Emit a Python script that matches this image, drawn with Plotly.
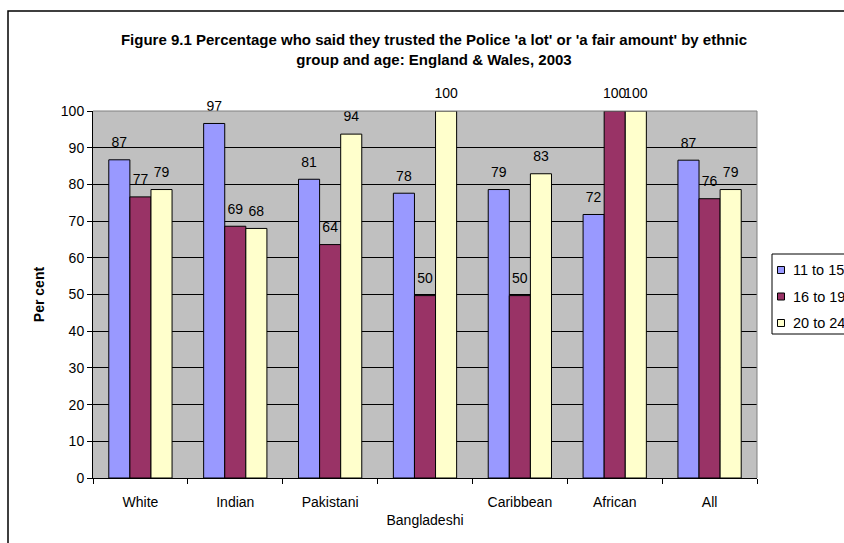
import plotly.graph_objects as go

categories = ["White", "Indian", "Pakistani", "Bangladeshi", "Caribbean", "African", "All"]
tick_labels = ["White", "Indian", "Pakistani", "<br>Bangladeshi", "Caribbean", "African", "All"]
series_names = ["11 to 15", "16 to 19", "20 to 24"]
age_11_15 = [86.7, 96.6, 81.4, 77.6, 78.6, 71.8, 86.6]
age_16_19 = [76.6, 68.6, 63.6, 49.7, 49.7, 100.0, 76.1]
age_20_24 = [78.6, 68.0, 93.7, 100.0, 82.9, 100.0, 78.6]
colors = ["#9999FF", "#993366", "#FFFFCC"]

FONT = "Arial, 'Liberation Sans', sans-serif"
GAP = 0.333

W, H = 844, 543
L, R, T, B = 93, 757, 111, 478


def px_x(px):
    return (px - L) / (R - L)


def px_y(py):
    return (B - py) / (B - T)


fig = go.Figure()
all_series = [age_11_15, age_16_19, age_20_24]
for i, (name, vals) in enumerate(zip(series_names, all_series)):
    fig.add_trace(go.Bar(
        x=categories, y=vals, name=name,
        marker=dict(color=colors[i], line=dict(color="black", width=1)),
        showlegend=False,
    ))
for i, vals in enumerate(all_series):
    fig.add_trace(go.Scatter(
        x=categories, y=vals, mode="markers+text",
        marker=dict(size=13, opacity=0, color="black"),
        text=[f"{v:.0f}" for v in vals], textposition="top center",
        textfont=dict(family=FONT, size=14, color="black"),
        cliponaxis=False, showlegend=False, hoverinfo="skip",
    ))

# legend (box, swatches and labels built from series_names / colors)
shapes = [
    dict(type="rect", xref="paper", yref="paper",
         x0=px_x(8), x1=1.5, y0=-0.5, y1=px_y(11),
         line=dict(color="black", width=1.5), fillcolor="rgba(0,0,0,0)", layer="above"),
    dict(type="line", xref="paper", yref="paper", x0=0, x1=1, y0=1, y1=1,
         line=dict(color="#808080", width=1), layer="above"),
    dict(type="line", xref="paper", yref="paper", x0=1, x1=1, y0=0, y1=1,
         line=dict(color="#808080", width=1), layer="above"),
    dict(type="rect", xref="paper", yref="paper",
         x0=px_x(772), x1=px_x(900), y0=px_y(334), y1=px_y(254),
         line=dict(color="black", width=1), fillcolor="white", layer="above"),
]
annotations = []
row_y = [270, 296.5, 323]
for name, col, ry in zip(series_names, colors, row_y):
    shapes.append(dict(type="rect", xref="paper", yref="paper",
                       x0=px_x(777.5), x1=px_x(784.5), y0=px_y(ry + 3.5), y1=px_y(ry - 3.5),
                       line=dict(color="black", width=1), fillcolor=col, layer="above"))
    annotations.append(dict(text=name, xref="paper", yref="paper",
                            x=px_x(791), y=px_y(ry), xanchor="left", yanchor="middle",
                            showarrow=False, font=dict(family=FONT, size=14.5, color="black")))

fig.update_layout(
    width=W, height=H,
    margin=dict(l=L, r=W - R, t=T, b=H - B, pad=0, autoexpand=False),
    paper_bgcolor="white", plot_bgcolor="#C0C0C0",
    font=dict(family=FONT, size=14, color="black"),
    title=dict(
        text="Figure 9.1 Percentage who said they trusted the Police 'a lot' or 'a fair amount' by ethnic<br>group and age: England & Wales, 2003",
        font=dict(family=FONT, size=15, color="black", weight="bold"),
        x=434 / W, xref="container", xanchor="center",
        y=1 - 45 / H, yref="container", yanchor="middle",
    ),
    barmode="group", bargap=GAP, bargroupgap=0,
    scattermode="group", scattergap=GAP,
    showlegend=False,
    xaxis=dict(
        categoryorder="array", categoryarray=categories,
        tickmode="array", tickvals=categories, ticktext=tick_labels,
        showline=True, linecolor="black", linewidth=1,
        ticks="outside", ticklen=5, tickcolor="black", tickson="boundaries",
        showgrid=False, zeroline=False, ticklabelstandoff=11,
        tickfont=dict(family=FONT, size=14, color="black"),
        fixedrange=True,
    ),
    yaxis=dict(
        range=[0, 100], dtick=10, tick0=0,
        showline=True, linecolor="black", linewidth=1,
        ticks="outside", ticklen=5, tickcolor="black",
        showgrid=True, gridcolor="black", gridwidth=1, zeroline=False,
        tickfont=dict(family=FONT, size=14, color="black"),
        title=dict(text="<b>Per cent</b>", font=dict(family=FONT, size=14, color="black"), standoff=12),
        fixedrange=True,
    ),
    shapes=shapes,
    annotations=annotations,
)

fig.write_html("out.html")
